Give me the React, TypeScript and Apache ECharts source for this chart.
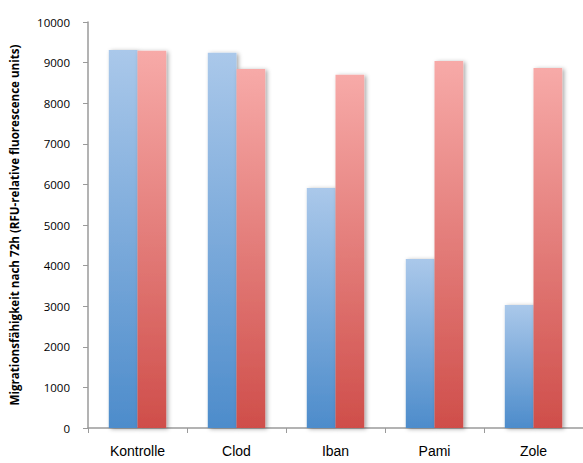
import React, { useEffect, useRef } from "react";
import * as echarts from "echarts";

const categories = ["Kontrolle", "Clod", "Iban", "Pami", "Zole"];
const blueValues = [9310, 9240, 5910, 4160, 3030];
const redValues = [9290, 8840, 8700, 9040, 8870];
const yTicks = { min: 0, max: 10000, interval: 1000 };
const yAxisTitle = "Migrationsfähigkeit nach 72h (RFU-relative fluorescence units)";

const grad = (top: string, bottom: string) =>
  new echarts.graphic.LinearGradient(0, 0, 0, 1, [
    { offset: 0, color: top },
    { offset: 1, color: bottom },
  ]);

export default function App() {
  const ref = useRef<HTMLDivElement>(null);
  useEffect(() => {
    if (!ref.current) return;
    const chart = echarts.init(ref.current, null, { renderer: "svg" });
    const barStyle = {
      shadowBlur: 4,
      shadowColor: "rgba(0,0,0,0.35)",
      shadowOffsetX: 2,
      shadowOffsetY: 1,
    };
    chart.setOption({
      animation: false,
      backgroundColor: "#ffffff",
      grid: { left: 88, top: 22, right: -7, bottom: 35 },
      xAxis: {
        type: "category",
        data: categories,
        axisLine: { lineStyle: { color: "#9a9a9a", width: 1.5 } },
        axisTick: { show: true, length: 5, alignWithLabel: false, lineStyle: { color: "#9a9a9a" } },
        axisLabel: { color: "#000", fontFamily: "'Liberation Sans', Arial, sans-serif", fontSize: 14, margin: 16 },
      },
      yAxis: {
        type: "value",
        min: yTicks.min,
        max: yTicks.max,
        interval: yTicks.interval,
        name: yAxisTitle,
        nameLocation: "middle",
        nameGap: 68,
        nameTextStyle: { color: "#000", fontFamily: "Open Sans", fontWeight: "bold", fontSize: 11.6 },
        axisLine: { show: true, lineStyle: { color: "#9a9a9a", width: 1.5 } },
        axisTick: { show: true, length: 5, lineStyle: { color: "#9a9a9a" } },
        axisLabel: {
          color: "#000",
          fontFamily: "Open Sans",
          fontSize: 11.5,
          margin: 18,
          formatter: (v: number) => String(v),
        },
        splitLine: {
          lineStyle: {
            color: "#959595",
            width: 1.6,
            shadowBlur: 2,
            shadowColor: "rgba(0,0,0,0.3)",
            shadowOffsetY: 1,
          },
        },
      },
      series: [
        {
          type: "bar",
          data: blueValues,
          barGap: "0%",
          barCategoryGap: "42%",
          itemStyle: { color: grad("#aac8ea", "#4d8ccb"), ...barStyle },
        },
        {
          type: "bar",
          data: redValues,
          itemStyle: { color: grad("#f7aaa8", "#cf4e4a"), ...barStyle },
        },
      ],
    });
    return () => chart.dispose();
  }, []);
  return (
    <div
      ref={ref}
      style={{ position: "fixed", left: 0, top: 0, width: 583, height: 463 }}
    />
  );
}
